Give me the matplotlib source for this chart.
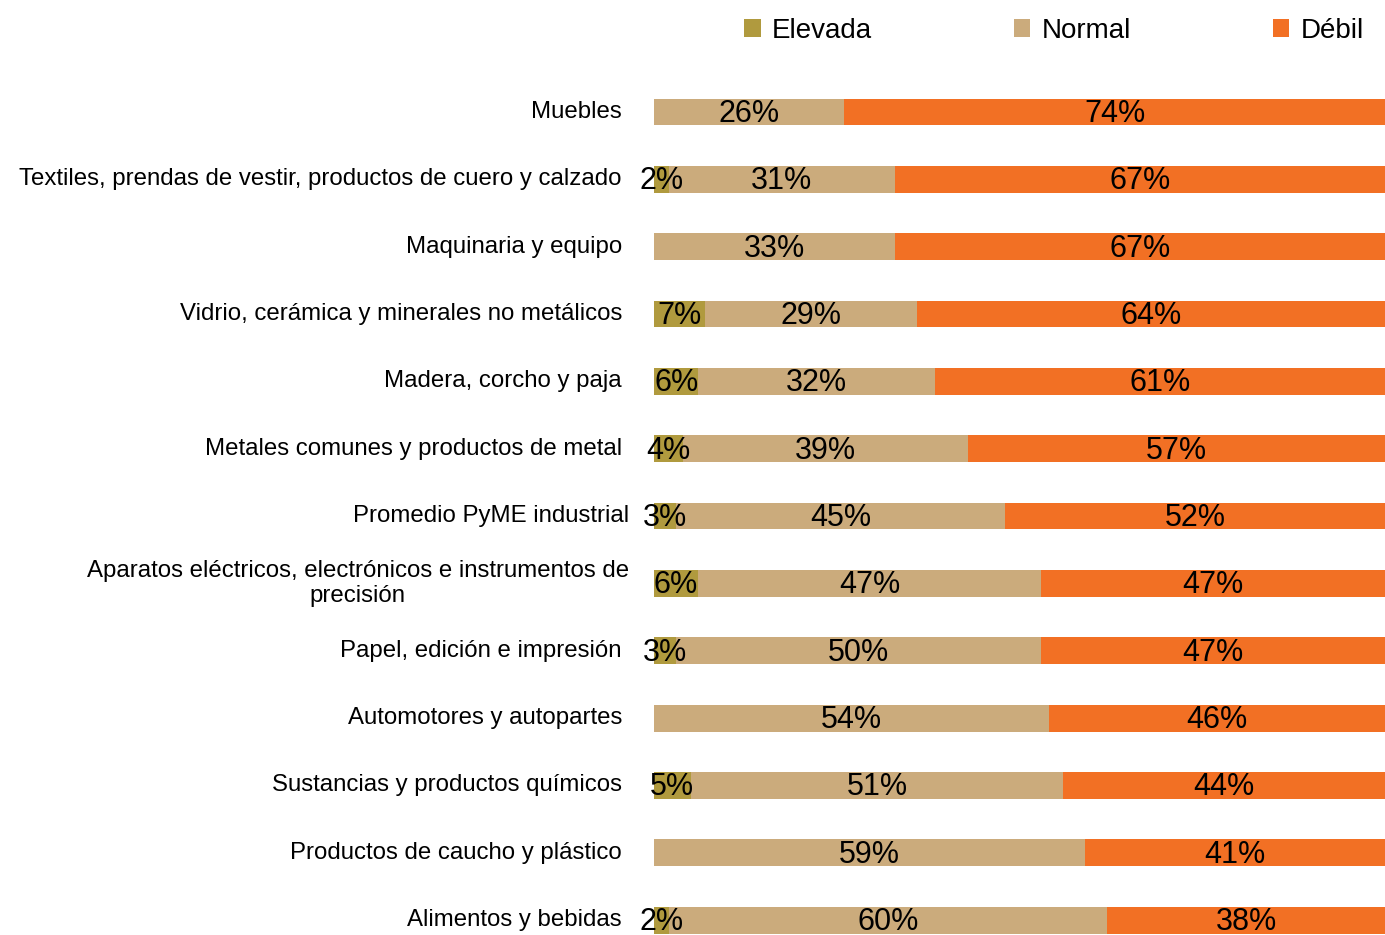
import numpy as np
import matplotlib
matplotlib.use('Agg')
import matplotlib.pyplot as plt

plt.rcParams['font.family'] = ['Liberation Sans', 'DejaVu Sans']

categories = ['Muebles',
              'Textiles, prendas de vestir, productos de cuero y calzado',
              'Maquinaria y equipo',
              'Vidrio, cerámica y minerales no metálicos',
              'Madera, corcho y paja',
              'Metales comunes y productos de metal',
              'Promedio PyME industrial',
              'Aparatos eléctricos, electrónicos e instrumentos de\nprecisión',
              'Papel, edición e impresión',
              'Automotores y autopartes',
              'Sustancias y productos químicos',
              'Productos de caucho y plástico',
              'Alimentos y bebidas']
elevada = [0, 2, 0, 7, 6, 4, 3, 6, 3, 0, 5, 0, 2]
normal = [26, 31, 33, 29, 32, 39, 45, 47, 50, 54, 51, 59, 60]
debil = [74, 67, 67, 64, 61, 57, 52, 47, 47, 46, 44, 41, 38]

colors = ['#b09a3e', '#cbab7c', '#f27024']
labels = ['Elevada', 'Normal', 'Débil']

fig = plt.figure(figsize=(13.85, 9.35), dpi=100)
ax = fig.add_axes([0.4722, 0.0016, 0.5278, 0.9362])

# rounded values don't always add to 100, bars are drawn as shares of each row
total = np.array(elevada) + np.array(normal) + np.array(debil)
y = np.arange(len(categories))
left = np.zeros(len(categories))
for vals, c, lab in zip([elevada, normal, debil], colors, labels):
    vals = np.array(vals, dtype=float)
    w = vals / total * 100
    ax.barh(y, w, left=left, height=0.4, color=c, label=lab)
    for yi, l, wi, v in zip(y, left, w, vals):
        if v > 0:
            ax.text(l + wi / 2, yi + 0.03, f'{int(v)}%', ha='center', va='center',
                    fontsize=22, color='black')
    left = left + w

ax.set_xlim(0, 100)
ax.set_ylim(12.2, -0.8)
ax.axis('off')

# category labels, two of them sit a bit closer to the bars
for yi, cat in enumerate(categories):
    off = -32
    if cat.startswith('Promedio') or cat.startswith('Aparatos'):
        off = -25
    ax.annotate(cat, xy=(0, yi), xycoords=('axes fraction', 'data'),
                xytext=(off * 0.72, 0), textcoords='offset points',
                ha='right', va='center', multialignment='center',
                fontsize=17.3, linespacing=1.15)

ax.legend(loc='upper center', bbox_to_anchor=(0.547, 1.075), ncol=3, frameon=False,
          fontsize=20, handlelength=0.6, handleheight=0.6, handletextpad=0.4,
          columnspacing=5.1)

fig.savefig('out.png', dpi=100)
